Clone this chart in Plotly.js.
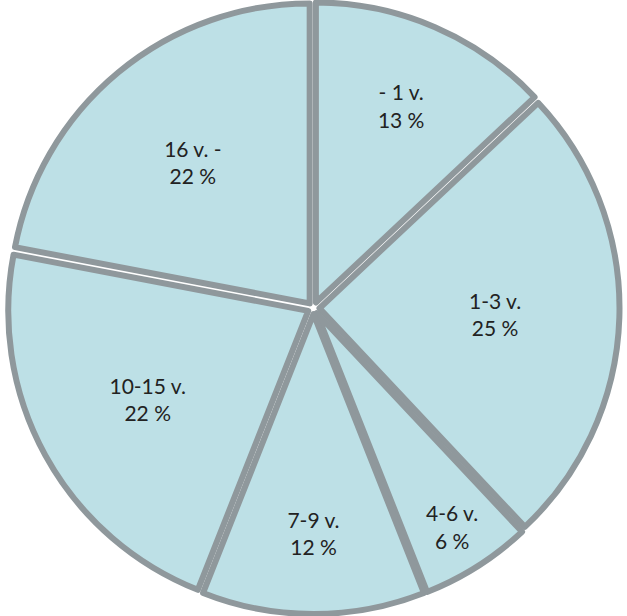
<!DOCTYPE html>
<html><head><meta charset="utf-8">
<script src="https://cdn.plot.ly/plotly-3.0.1.min.js"></script>
<style>html,body{margin:0;padding:0;background:#fff;}</style>
</head><body>
<div id="chart" style="width:627px;height:616px;"></div>
<script>
const categories = ["- 1 v.", "1-3 v.", "4-6 v.", "7-9 v.", "10-15 v.", "16 v. -"];
const percentages = [13, 25, 6, 12, 22, 22];
const sliceText = categories.map((c, i) => c + "<br>" + percentages[i] + " %");

const trace = {
  type: "pie",
  labels: categories,
  values: percentages,
  text: sliceText,
  textinfo: "text",
  textposition: "inside",
  insidetextorientation: "horizontal",
  sort: false,
  direction: "clockwise",
  rotation: 0,
  pull: 0.02,
  hole: 0,
  marker: {colors: categories.map(() => "#bde0e6"), line: {color: "#8f989c", width: 6}},
  textfont: {family: "Lato, 'Open Sans', sans-serif", size: 21, color: "#222222"},
  showlegend: false,
  domain: {x: [0, 1], y: [0, 1]}
};

Plotly.newPlot("chart", [trace], {
  width: 627, height: 616,
  margin: {l: 2, r: 2, t: 2, b: 2},
  paper_bgcolor: "#ffffff",
  showlegend: false
}, {displayModeBar: false, staticPlot: true});
</script>
</body></html>
